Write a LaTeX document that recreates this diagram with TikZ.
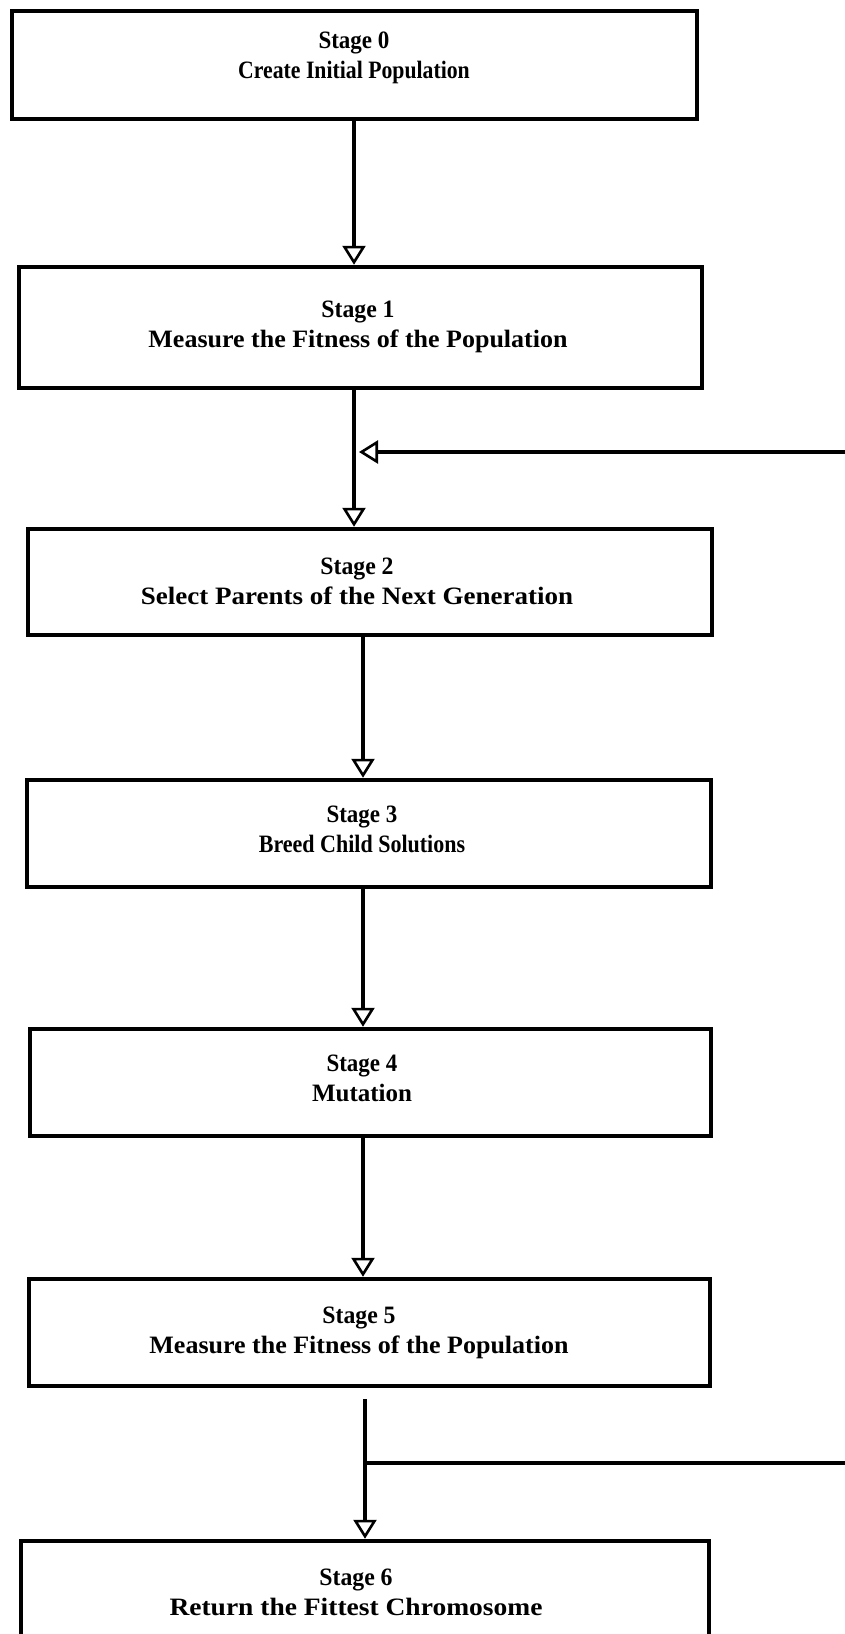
\documentclass[tikz,border=0pt]{standalone}
\usepackage{fontspec}
\usepackage{graphicx}
\setmainfont{Liberation Serif}
\usetikzlibrary{arrows.meta}
\newcommand\hsx[2]{\scalebox{#1}[1]{#2}}
\begin{document}
\begin{tikzpicture}[x=1pt,y=-1pt,
  stagebox/.style={draw, line width=4.5pt, rectangle, inner sep=0pt},
  stagetext/.style={align=center, font=\fontsize{25}{30}\selectfont\bfseries, inner sep=0pt},
  flow/.style={line width=4pt, -{Triangle[open,length=19pt,width=23pt,line width=2.6pt]}},
  plainline/.style={line width=4pt}]
\useasboundingbox (0,0) rectangle (845,1634);
\clip (0,0) rectangle (845,1634);
\fill[white] (0,0) rectangle (845,1634);

% boxes
\node[stagebox, minimum width=685pt, minimum height=108pt] (s0) at (354.5,65) {};
\node[stagebox, minimum width=683pt, minimum height=121pt] (s1) at (360.5,327.5) {};
\node[stagebox, minimum width=684pt, minimum height=106pt] (s2) at (370,582) {};
\node[stagebox, minimum width=684pt, minimum height=107pt] (s3) at (369,833.5) {};
\node[stagebox, minimum width=681pt, minimum height=107pt] (s4) at (370.5,1082.5) {};
\node[stagebox, minimum width=681pt, minimum height=107pt] (s5) at (369.5,1332.5) {};
\node[stagebox, minimum width=688pt, minimum height=200pt] (s6) at (365,1641) {};

% texts
\node[stagetext] (t0) at (354,58) {\hsx{0.92}{Stage 0}\\\hsx{0.87}{Create Initial Population}};
\node[stagetext] (t1) at (358,327) {\hsx{0.95}{Stage 1}\\\hsx{1.04}{Measure the Fitness of the Population}};
\node[stagetext] (t2) at (357,581) {\hsx{0.95}{Stage 2}\\\hsx{1.08}{Select Parents of the Next Generation}};
\node[stagetext] (t3) at (362,829) {\hsx{0.92}{Stage 3}\\\hsx{0.88}{Breed Child Solutions}};
\node[stagetext] (t4) at (362,1078) {\hsx{0.92}{Stage 4}\\Mutation};
\node[stagetext] (t5) at (359,1333) {\hsx{0.95}{Stage 5}\\\hsx{1.04}{Measure the Fitness of the Population}};
\node[stagetext] (t6) at (356,1592) {\hsx{0.95}{Stage 6}\\\hsx{1.1}{Return the Fittest Chromosome}};

% helper coordinates
\coordinate (xa) at (354,0);
\coordinate (xb) at (363,0);
\coordinate (fbR) at (845,452);
\coordinate (fbT) at (359,452);
\coordinate (j) at (365,1399);
\coordinate (k) at (365,1463);
\coordinate (kR) at (845,1463);

% connectors
\draw[flow] (s0.south -| xa) -- (s1.north -| xa);
\draw[flow] (s1.south -| xa) -- (s2.north -| xa);
\draw[flow] (s2.south -| xb) -- (s3.north -| xb);
\draw[flow] (s3.south -| xb) -- (s4.north -| xb);
\draw[flow] (s4.south -| xb) -- (s5.north -| xb);
\draw[flow] (fbR) -- (fbT);
\draw[flow] (j) -- (j |- s6.north);
\draw[plainline] (k) -- (kR);
\end{tikzpicture}
\end{document}
